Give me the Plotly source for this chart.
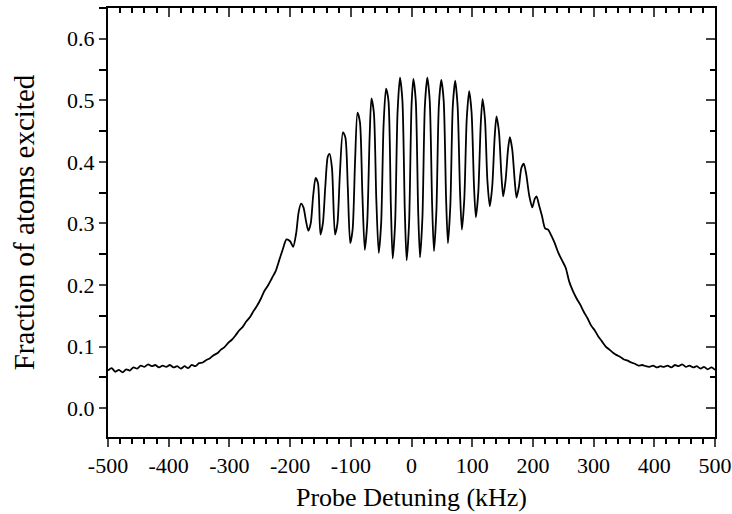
import plotly.graph_objects as go

# left wing of the line (kHz, fraction)
left_x = [-500, -494, -488, -482, -476, -470, -464, -458, -452, -446, -440, -434, -428, -422, -416,
          -410, -404, -398, -392, -386, -380, -374, -368, -362, -356, -350, -344, -338, -332, -326,
          -320, -314, -308, -302, -296, -290, -284, -278, -272, -266, -260, -254, -248, -242, -236,
          -230, -224, -218, -212, -206, -200, -195]
left_y = [0.061, 0.065, 0.059, 0.062, 0.058, 0.063, 0.061, 0.066, 0.064, 0.069, 0.067, 0.071, 0.068, 0.070, 0.066,
          0.069, 0.067, 0.070, 0.066, 0.068, 0.064, 0.068, 0.065, 0.070, 0.068, 0.073, 0.074, 0.078, 0.081, 0.086,
          0.089, 0.095, 0.099, 0.106, 0.111, 0.118, 0.126, 0.132, 0.141, 0.148, 0.158, 0.167, 0.178, 0.191, 0.200,
          0.211, 0.222, 0.240, 0.258, 0.274, 0.271, 0.262]

# fringes in the centre
fringe_x = [-190, -186, -182, -178, -174, -170, -166, -162, -158, -154, -150, -146, -142, -138, -135,
            -131, -126, -122, -118, -113, -109, -105, -101, -97, -93, -89, -85, -81, -77, -73,
            -69, -66, -62, -58, -54, -50, -46, -42, -38, -34, -31, -27, -23, -19, -15,
            -11, -8, -4, 0, 3, 7, 11, 14, 18, 22, 26, 30, 34, 37, 41,
            45, 49, 53, 57, 60, 64, 68, 72, 76, 80, 83, 87, 91, 95, 99,
            103, 106, 110, 114, 117, 121, 125, 129, 133, 137, 140, 144, 148, 151, 155,
            159, 162, 166, 170, 173, 177, 181, 185, 189, 194, 199, 203, 206]
fringe_y = [0.284, 0.318, 0.332, 0.326, 0.305, 0.288, 0.300, 0.345, 0.374, 0.365, 0.282, 0.300, 0.360, 0.408, 0.413,
            0.390, 0.282, 0.300, 0.380, 0.448, 0.440, 0.360, 0.268, 0.290, 0.400, 0.480, 0.465, 0.350, 0.257, 0.300,
            0.440, 0.503, 0.480, 0.340, 0.252, 0.300, 0.460, 0.519, 0.500, 0.330, 0.243, 0.300, 0.480, 0.537, 0.500,
            0.320, 0.240, 0.300, 0.490, 0.535, 0.500, 0.320, 0.245, 0.310, 0.490, 0.537, 0.500, 0.330, 0.255, 0.320,
            0.490, 0.533, 0.500, 0.340, 0.268, 0.330, 0.490, 0.532, 0.490, 0.350, 0.290, 0.340, 0.470, 0.515, 0.480,
            0.360, 0.310, 0.350, 0.460, 0.502, 0.470, 0.370, 0.328, 0.360, 0.440, 0.474, 0.450, 0.380, 0.344, 0.370,
            0.420, 0.440, 0.420, 0.370, 0.342, 0.360, 0.390, 0.397, 0.380, 0.345, 0.326, 0.340, 0.344]

# right wing
right_x = [210, 215, 220, 225, 230, 236, 242, 248, 254, 260, 266, 272, 278, 284, 290,
           296, 302, 308, 314, 320, 326, 332, 338, 344, 350, 356, 362, 368, 374, 380,
           386, 392, 398, 404, 410, 416, 422, 428, 434, 440, 446, 452, 458, 464, 470,
           476, 482, 488, 494, 500]
right_y = [0.330, 0.312, 0.292, 0.290, 0.281, 0.268, 0.252, 0.240, 0.228, 0.205, 0.190, 0.178, 0.168, 0.156, 0.146,
           0.134, 0.126, 0.116, 0.108, 0.100, 0.095, 0.090, 0.086, 0.083, 0.079, 0.077, 0.074, 0.072, 0.069, 0.070,
           0.068, 0.067, 0.069, 0.066, 0.068, 0.067, 0.069, 0.066, 0.070, 0.068, 0.071, 0.067, 0.069, 0.066, 0.068,
           0.064, 0.067, 0.063, 0.066, 0.062]

x_tick_vals = [-500, -400, -300, -200, -100, 0, 100, 200, 300, 400, 500]
x_tick_labels = ["-500", "-400", "-300", "-200", "-100", "0", "100", "200", "300", "400", "500"]

x = left_x + fringe_x + right_x
y = left_y + fringe_y + right_y

serif = "Liberation Serif, Times New Roman, serif"

fig = go.Figure()
fig.add_trace(go.Scatter(x=x, y=y, mode="lines",
                         line=dict(color="black", width=1.8, shape="spline", smoothing=0.7),
                         showlegend=False))
# empty trace so the top/right frame axes get drawn
fig.add_trace(go.Scatter(x=[None], y=[None], xaxis="x2", yaxis="y2",
                         showlegend=False, hoverinfo="skip"))

xr = [-500, 500]
yr = [-0.047, 0.65]
fig.update_layout(
    width=732, height=514,
    margin=dict(l=108, r=17, t=8, b=77),
    paper_bgcolor="white", plot_bgcolor="white",
    font=dict(family=serif, size=22, color="black"),
    xaxis=dict(range=xr, tickmode="array", tickvals=x_tick_vals, ticktext=x_tick_labels,
               ticks="outside", ticklen=8, tickwidth=2,
               showline=True, linewidth=2, linecolor="black", showgrid=False, zeroline=False,
               automargin=False,
               minor=dict(dtick=20, tick0=0, ticks="outside", ticklen=5, tickwidth=2, tickcolor="black"),
               title=dict(text="Probe Detuning (kHz)", font=dict(size=26), standoff=10),
               tickfont=dict(size=22)),
    xaxis2=dict(range=xr, overlaying="x", side="top", dtick=100, tick0=0, ticks="inside",
                ticklen=9, tickwidth=2, showticklabels=False, showline=True, linewidth=2,
                linecolor="black", showgrid=False, zeroline=False, automargin=False,
                minor=dict(dtick=20, ticks="inside", ticklen=5, tickwidth=2, tickcolor="black")),
    yaxis=dict(range=yr, dtick=0.1, tick0=0, tickformat=".1f", ticks="outside", ticklen=7,
               tickwidth=2, showline=True, linewidth=2, linecolor="black", showgrid=False,
               zeroline=False, automargin=False,
               minor=dict(dtick=0.05, ticks="outside", ticklen=7, tickwidth=2, tickcolor="black"),
               title=dict(text="Fraction of atoms excited", font=dict(size=29), standoff=24),
               tickfont=dict(size=22)),
    yaxis2=dict(range=yr, overlaying="y", side="right", dtick=0.1, tick0=0, ticks="inside",
                ticklen=9, tickwidth=2, showticklabels=False, showline=True, linewidth=2,
                linecolor="black", showgrid=False, zeroline=False, automargin=False,
                minor=dict(dtick=0.05, ticks="inside", ticklen=5, tickwidth=2, tickcolor="black")),
)

fig.write_html("out.html", config={"displayModeBar": False},
               post_script="document.body.style.margin='0';")
